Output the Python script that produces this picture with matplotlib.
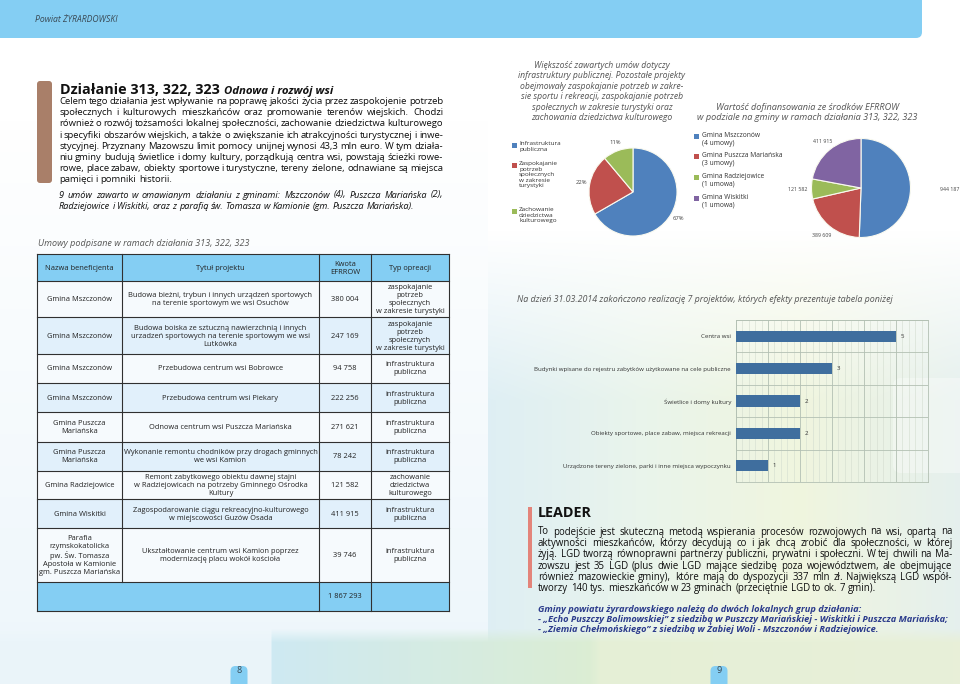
import numpy as np
import matplotlib.pyplot as plt
from matplotlib.patches import Rectangle, FancyBboxPatch

plt.rcParams['font.family'] = ['Open Sans', 'DejaVu Sans']

# ---------------- data ----------------
beneficjenci = ["Gmina Mszczonów", "Gmina Mszczonów", "Gmina Mszczonów", "Gmina Mszczonów",
                "Gmina Puszcza\nMariańska", "Gmina Puszcza\nMariańska", "Gmina Radziejowice",
                "Gmina Wiskitki",
                "Parafia\nrzymskokatolicka\npw. Św. Tomasza\nApostoła w Kamionie\ngm. Puszcza Mariańska"]
tytuly = ["Budowa bieżni, trybun i innych urządzeń sportowych\nna terenie sportowym we wsi Osuchów",
          "Budowa boiska ze sztuczną nawierzchnią i innych\nurzadzeń sportowych na terenie sportowym we wsi\nLutkówka",
          "Przebudowa centrum wsi Bobrowce",
          "Przebudowa centrum wsi Piekary",
          "Odnowa centrum wsi Puszcza Mariańska",
          "Wykonanie remontu chodników przy drogach gminnych\nwe wsi Kamion",
          "Remont zabytkowego obiektu dawnej stajni\nw Radziejowicach na potrzeby Gminnego Ośrodka\nKultury",
          "Zagospodarowanie ciągu rekreacyjno-kulturowego\nw miejscowości Guzów Osada",
          "Ukształtowanie centrum wsi Kamion poprzez\nmodernizację placu wokół kościoła"]
kwoty = [380004, 247169, 94758, 222256, 271621, 78242, 121582, 411915, 39746]
typy = ["zaspokajanie\npotrzeb\nspołecznych\nw zakresie turystyki",
        "zaspokajanie\npotrzeb\nspołecznych\nw zakresie turystyki",
        "infrastruktura\npubliczna", "infrastruktura\npubliczna", "infrastruktura\npubliczna",
        "infrastruktura\npubliczna", "zachowanie\ndziedzictwa\nkulturowego",
        "infrastruktura\npubliczna", "infrastruktura\npubliczna"]
naglowki = ["Nazwa beneficjenta", "Tytuł projektu", "Kwota\nEFRROW", "Typ opreacji"]

typy_umow = ["Infrastruktura\npubliczna", "Zaspokajanie\npotrzeb\nspołecznych\nw zakresie\nturystyki",
             "Zachowanie\ndziedzictwa\nkulturowego"]
liczba_umow = [6, 2, 1]

gminy = ["Gmina Mszczonów\n(4 umowy)", "Gmina Puszcza Mariańska\n(3 umowy)",
         "Gmina Radziejowice\n(1 umowa)", "Gmina Wiskitki\n(1 umowa)"]
gminy_kwoty = [944187, 389609, 121582, 411915]

efekty = ["Centra wsi", "Budynki wpisane do rejestru zabytków użytkowane na cele publiczne",
          "Świetlice i domy kultury", "Obiekty sportowe, place zabaw, miejsca rekreacji",
          "Urządzone tereny zielone, parki i inne miejsca wypoczynku"]
efekty_liczba = [5, 3, 2, 2, 1]

tekst_dzialanie = [
    "Celem tego działania jest wpływanie na poprawę jakości życia przez zaspokojenie potrzeb",
    "społecznych i kulturowych mieszkańców oraz promowanie terenów wiejskich. Chodzi",
    "również o rozwój tożsamości lokalnej społeczności, zachowanie dziedzictwa kulturowego",
    "i specyfiki obszarów wiejskich, a także o zwiększanie ich atrakcyjności turystycznej i inwe-",
    "stycyjnej. Przyznany Mazowszu limit pomocy unijnej wynosi 43,3 mln euro. W tym działa-",
    "niu gminy budują świetlice i domy kultury, porządkują centra wsi, powstają ścieżki rowe-",
    "rowe, place zabaw, obiekty sportowe i turystyczne, tereny zielone, odnawiane są miejsca",
    "pamięci i pomniki historii."]
tekst_umowy = [
    "9 umów zawarto w omawianym działaniu z gminami: Mszczonów (4), Puszcza Mariańska (2),",
    "Radziejowice i Wiskitki, oraz z parafią św. Tomasza w Kamionie (gm. Puszcza Mariańska)."]
tekst_leader = [
    "To podejście jest skuteczną metodą wspierania procesów rozwojowych na wsi, opartą na",
    "aktywności mieszkańców, którzy decydują co i jak chcą zrobić dla społeczności, w której",
    "żyją. LGD tworzą równoprawni partnerzy publiczni, prywatni i społeczni. W tej chwili na Ma-",
    "zowszu jest 35 LGD (plus dwie LGD mające siedzibę poza województwem, ale obejmujące",
    "również mazowieckie gminy), które mają do dyspozycji 337 mln zł. Największą LGD współ-",
    "tworzy 140 tys. mieszkańców w 23 gminach (przeciętnie LGD to ok. 7 gmin)."]
tekst_lgd = [
    "Gminy powiatu żyrardowskiego należą do dwóch lokalnych grup działania:",
    "- „Echo Puszczy Bolimowskiej” z siedzibą w Puszczy Mariańskiej - Wiskitki i Puszcza Mariańska;",
    "- „Ziemia Chełmońskiego” z siedzibą w Żabiej Woli - Mszczonów i Radziejowice."]
tytul_pie1 = ["Większość zawartych umów dotyczy", "infrastruktury publicznej. Pozostałe projekty",
              "obejmowały zaspokajanie potrzeb w zakre-", "sie sportu i rekreacji, zaspokajanie potrzeb",
              "społecznych w zakresie turystyki oraz", "zachowania dziedzictwa kulturowego"]
tytul_pie2 = ["Wartość dofinansowania ze środków EFRROW",
              "w podziale na gminy w ramach działania 313, 322, 323"]

# ---------------- page ----------------
W, H = 960, 684
fig = plt.figure(figsize=(9.6, 6.84), dpi=100)
ax0 = fig.add_axes([0, 0, 1, 1])
ax0.set_xlim(0, W)
ax0.set_ylim(H, 0)
ax0.axis('off')
renderer = fig.canvas.get_renderer()


def box(x0, y0, x1, y1):
    return [x0 / W, 1 - y1 / H, (x1 - x0) / W, (y1 - y0) / H]


def lerp_cols(x, stops, cols):
    cols = np.array(cols)
    return np.stack([np.interp(x, stops, cols[:, i]) for i in range(3)], axis=-1)


# background gradients
yy = np.arange(H)[:, None] * np.ones((1, W))
xx = np.ones((H, 1)) * np.arange(W)[None, :]
bg = np.ones((H, W, 3))
w = (np.clip((yy - 120) / 520, 0, 1) * 0.5 * (xx < 488))[..., None]
bg = bg * (1 - w) + np.array([0.87, 0.935, 0.97]) * w
rc = lerp_cols(np.arange(W), [488, 640, 800, 960],
               [(0.85, 0.925, 0.95), (0.90, 0.95, 0.91), (0.93, 0.955, 0.85), (0.88, 0.93, 0.92)])[None]
w = (np.clip((yy - 230) / 170, 0, 1) * 0.85 * (xx >= 488))[..., None]
bg = bg * (1 - w) + rc * w
bc = lerp_cols(np.arange(W), [0, 270, 272, 589, 600, 960],
               [(0.92, 0.96, 0.98), (0.92, 0.96, 0.98), (0.81, 0.915, 0.95),
                (0.86, 0.93, 0.83), (0.90, 0.94, 0.84), (0.91, 0.94, 0.85)])
wb = np.clip((np.arange(H) - 628) / 14, 0, 1)[:, None, None]
bg = bg * (1 - wb) + bc[None] * wb
ax0.imshow(bg, extent=(0, W, H, 0), aspect='auto', zorder=0, interpolation='bilinear')
ax0.add_patch(FancyBboxPatch((893, 378), 90, 95, boxstyle="round,pad=0,rounding_size=8",
                             fc='white', ec='none', alpha=0.35, zorder=1))

# top banner
sky = '#84cef3'
ax0.add_patch(FancyBboxPatch((-20, -20), 942, 58, boxstyle="round,pad=0,rounding_size=6",
                             fc=sky, ec='none', zorder=2))
ax0.text(35, 21.5, "Powiat ŻYRARDOWSKI", fontsize=6.2, style='italic', color='#3a4a55',
         va='baseline', zorder=3)

# page tabs
for xc, num in [(239, "8"), (719, "9")]:
    ax0.add_patch(FancyBboxPatch((xc - 8.5, 666), 17, 30, boxstyle="round,pad=0,rounding_size=5",
                                 fc=sky, ec='none', zorder=2))
    ax0.text(xc, 673, num, fontsize=6.5, color='#3a4a55', ha='center', va='baseline', zorder=3)

scratch = ax0.text(0, 0, "", alpha=0)


def tw(s, fs, **kw):
    scratch.set_text(s)
    scratch.set_fontsize(fs)
    scratch.set_fontstyle(kw.get('style', 'normal'))
    scratch.set_fontweight(kw.get('fontweight', 'normal'))
    return scratch.get_window_extent(renderer).width


def para(lines, x0, x1, y, dy, fs, **kw):
    # justified block: every line but the last is stretched to x1
    for i, line in enumerate(lines):
        words = line.split()
        full = tw(line, fs, **kw)
        extra = 0
        if i < len(lines) - 1 and len(words) > 1:
            extra = (x1 - x0 - full) / (len(words) - 1)
        for k, wd in enumerate(words):
            start = tw(' '.join(words[:k + 1]), fs, **kw) - tw(wd, fs, **kw)
            ax0.text(x0 + start + k * extra, y + i * dy, wd, fontsize=fs, va='baseline', zorder=3, **kw)


# left page text
ax0.add_patch(FancyBboxPatch((37, 81), 15, 102, boxstyle="round,pad=0,rounding_size=3",
                             fc='#a97f69', ec='none', zorder=2))
t = ax0.text(60, 94, "Działanie 313, 322, 323", fontsize=10.4, fontweight='bold', color='#111111',
             va='baseline', zorder=3)
hw = t.get_window_extent(renderer).width
ax0.text(60 + hw + 4, 94, "Odnowa i rozwój wsi", fontsize=8.2, fontweight='bold', style='italic',
         color='#111111', va='baseline', zorder=3)
para(tekst_dzialanie, 59, 443, 104, 11.2, 6.8, color='#0e0e0e')
para(tekst_umowy, 59, 443, 197.5, 11.2, 6.6, color='#0e0e0e', style='italic')
ax0.text(38, 245.5, "Umowy podpisane w ramach działania 313, 322, 323", fontsize=6.5,
         style='italic', color='#555555', va='baseline', zorder=3)

# table
kol_x = [37, 122, 319, 371, 449]
wiersz_y = [254, 281, 317, 354, 383, 412, 442, 471, 499, 528, 582, 611]
n = len(kwoty)
fmt = lambda v: f"{v:,}".replace(',', ' ')
wiersze = [naglowki] + [[beneficjenci[i], tytuly[i], fmt(kwoty[i]), typy[i]] for i in range(n)]
wiersze.append(["", "", fmt(sum(kwoty)), ""])
for r, row in enumerate(wiersze):
    y0, y1 = wiersz_y[r], wiersz_y[r + 1]
    if r == 0 or r == len(wiersze) - 1:
        fc = sky
    else:
        fc = '#f6fafd' if r % 2 == 1 else '#e1f0fb'
    ax0.add_patch(Rectangle((kol_x[0], y0), kol_x[-1] - kol_x[0], y1 - y0, fc=fc, ec='none', zorder=2))
    for c, txt in enumerate(row):
        ax0.text((kol_x[c] + kol_x[c + 1]) / 2, (y0 + y1) / 2 + 0.5, txt, fontsize=5.4,
                 color='#222222', ha='center', va='center', multialignment='center', zorder=3)
for yv in wiersz_y:
    ax0.plot([kol_x[0], kol_x[-1]], [yv, yv], color='#303030', lw=0.8, zorder=4)
for c, xv in enumerate(kol_x):
    yend = wiersz_y[-2] if c == 1 else wiersz_y[-1]
    ax0.plot([xv, xv], [wiersz_y[0], yend], color='#303030', lw=0.8, zorder=4)

# right page: pie titles
for i, line in enumerate(tytul_pie1):
    ax0.text(602, 67.5 + i * 10.6, line, fontsize=6.2, style='italic', color='#555555',
             ha='center', va='baseline', zorder=3)
for i, line in enumerate(tytul_pie2):
    ax0.text(807, 109.5 + i * 11, line, fontsize=6.6, style='italic', color='#555555',
             ha='center', va='baseline', zorder=3)

kolory = ['#4f81bd', '#c0504d', '#9bbb59', '#8064a2']

# pie 1
ax1 = fig.add_axes(box(633 - 66, 192 - 66, 633 + 66, 192 + 66))
ax1.pie(liczba_umow, colors=kolory[:3], startangle=90, counterclock=False,
        autopct=lambda p: f"{p:.0f}%", pctdistance=1.2,
        wedgeprops=dict(edgecolor='#fafaf0', linewidth=0.8),
        textprops=dict(fontsize=4.2, color='#444444'))
ax1.set_xlim(-1.5, 1.5)
ax1.set_ylim(-1.5, 1.5)
ax1.set_aspect('equal')
ax1.axis('off')
leg1_y = [145, 165, 211]
for lab, col, yc in zip(typy_umow, kolory, leg1_y):
    ax0.add_patch(Rectangle((511.5, yc - 2.5), 5, 5, fc=col, ec='none', zorder=3))
    ax0.text(519, yc - 3.6, lab, fontsize=4.6, color='#333333', va='top', linespacing=1.1, zorder=3)

# pie 2
ax2 = fig.add_axes(box(861 - 99, 188 - 99, 861 + 99, 188 + 99))
wedges, texts = ax2.pie(gminy_kwoty, colors=kolory, startangle=90, counterclock=False,
                        labels=[fmt(v) for v in gminy_kwoty],
                        wedgeprops=dict(edgecolor='#fafaf0', linewidth=0.8),
                        textprops=dict(fontsize=3.8, color='#444444'))
for wg, tx, d in zip(wedges, texts, [1.8, 1.24, 1.27, 1.22]):
    ang = np.deg2rad((wg.theta1 + wg.theta2) / 2)
    tx.set_position((d * np.cos(ang), d * np.sin(ang)))
    tx.set_ha('center')
    tx.set_va('center')
ax2.set_xlim(-2, 2)
ax2.set_ylim(-2, 2)
ax2.set_aspect('equal')
ax2.axis('off')
leg2_y = [136, 156, 177, 198]
for lab, col, yc in zip(gminy, kolory, leg2_y):
    ax0.add_patch(Rectangle((693.5, yc - 2.5), 5, 5, fc=col, ec='none', zorder=3))
    ax0.text(702, yc - 3.8, lab, fontsize=4.8, color='#333333', va='top', linespacing=1.15, zorder=3)

# bar chart
ax0.text(517, 301.5, "Na dzień 31.03.2014 zakończono realizację 7 projektów, których efekty prezentuje tabela poniżej",
         fontsize=6.4, style='italic', color='#555555', va='baseline', zorder=3)
ax3 = fig.add_axes(box(736, 320, 928, 482))
ax3.set_facecolor('none')
yp = np.arange(len(efekty))
bars = ax3.barh(yp, efekty_liczba, height=0.34, color='#3f6e9e', zorder=3)
ax3.bar_label(bars, padding=3.5, fontsize=4.4, color='#333333')
ax3.set_xlim(0, 6)
ax3.set_ylim(len(efekty) - 0.5, -0.5)
ax3.set_xticks(range(7))
ax3.set_xticks(np.arange(0, 6.01, 0.2), minor=True)
ax3.set_yticks(yp)
ax3.set_yticks(np.arange(-0.5, len(efekty), 1), minor=True)
ax3.set_yticklabels(efekty, fontsize=4.4, color='#333333')
ax3.set_xticklabels([])
ax3.tick_params(which='both', length=0, pad=3.6)
ax3.grid(axis='x', which='major', color='#b3c0b3', lw=0.6)
ax3.grid(axis='x', which='minor', color='#d3dccf', lw=0.4)
ax3.grid(axis='y', which='minor', color='#b3c0b3', lw=0.6)
for s in ax3.spines.values():
    s.set_color('#b3c0b3')
    s.set_linewidth(0.6)

# LEADER
ax0.add_patch(Rectangle((528, 507), 4, 81, fc='#e3847a', ec='none', zorder=2))
ax0.text(538, 517, "LEADER", fontsize=10.4, fontweight='bold', color='#111111', va='baseline', zorder=3)
para(tekst_leader, 538, 952, 534.5, 11.35, 6.9, color='#0e0e0e')
for i, line in enumerate(tekst_lgd):
    ax0.text(538, 611.5 + i * 10, line, fontsize=6.7, fontweight='bold', style='italic',
             color='#2c3c8c', va='baseline', zorder=3)

fig.savefig('out.png', dpi=100)
